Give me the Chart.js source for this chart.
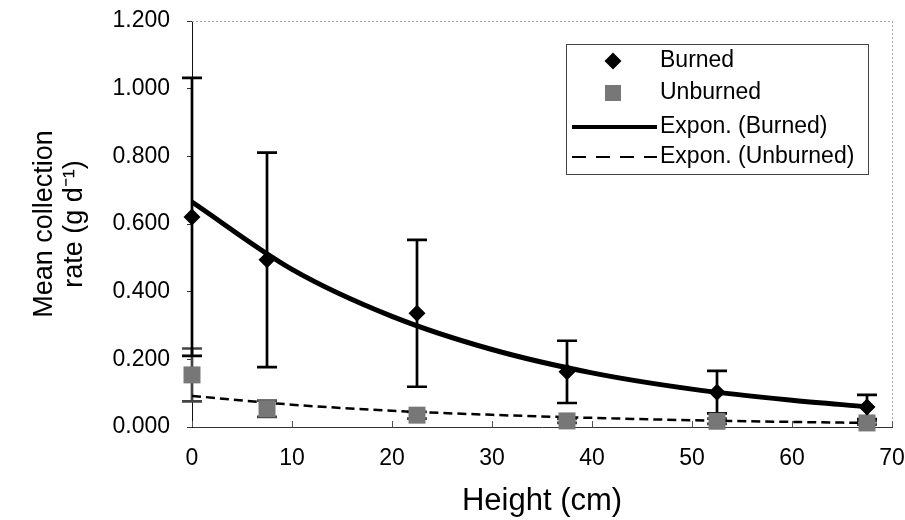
<!DOCTYPE html>
<html>
<head>
<meta charset="utf-8">
<script src="https://cdn.jsdelivr.net/npm/chart.js@4/dist/chart.umd.min.js"></script>
<style>
  html, body { margin: 0; padding: 0; background: #fff; }
  #wrap { width: 905px; height: 520px; }
</style>
</head>
<body>
<div id="wrap"><canvas id="chart" width="905" height="520"></canvas></div>
<script>
// sampling heights (cm)
var heights = [0, 7.5, 22.5, 37.5, 52.5, 67.5];
var burnedMean = [0.621, 0.494, 0.336, 0.163, 0.103, 0.059];
var burnedErr = [0.411, 0.317, 0.217, 0.092, 0.063, 0.036];
var unburnedMean = [0.154, 0.054, 0.035, 0.018, 0.017, 0.012];
var unburnedErr = [0.078, 0.024, 0.010, 0.006, 0.008, 0.005];
// fitted exponential trend lines
var trendX = [0, 10, 20, 30, 40, 50, 60, 67.5];
var burnedTrend = [0.665, 0.466, 0.327, 0.229, 0.160, 0.112, 0.079, 0.060];
var unburnedTrend = [0.092, 0.066, 0.048, 0.036, 0.027, 0.020, 0.015, 0.012];
var xTicks = [0, 10, 20, 30, 40, 50, 60, 70];
var yTicks = [0, 0.2, 0.4, 0.6, 0.8, 1.0, 1.2];
var seriesNames = ['Burned', 'Unburned', 'Expon. (Burned)', 'Expon. (Unburned)'];

var FONT = '"Liberation Sans", Arial, sans-serif';

function toPoints(xs, ys) {
  var out = [];
  for (var i = 0; i < xs.length; i++) out.push({x: xs[i], y: ys[i]});
  return out;
}

var errorBars = {
  id: 'errorBars',
  beforeDatasetsDraw: function (chart) {
    var ctx = chart.ctx, xs = chart.scales.x, ys = chart.scales.y;
    function bars(means, errs, color) {
      ctx.save();
      ctx.strokeStyle = color;
      ctx.lineWidth = 2.7;
      for (var i = 0; i < heights.length; i++) {
        var px = xs.getPixelForValue(heights[i]);
        var top = ys.getPixelForValue(means[i] + errs[i]);
        var bot = ys.getPixelForValue(Math.max(means[i] - errs[i], 0));
        ctx.beginPath();
        ctx.moveTo(px, top); ctx.lineTo(px, bot);
        ctx.moveTo(px - 10, top); ctx.lineTo(px + 10, top);
        ctx.moveTo(px - 10, bot); ctx.lineTo(px + 10, bot);
        ctx.stroke();
      }
      ctx.restore();
    }
    bars(unburnedMean, unburnedErr, '#444');
    bars(burnedMean, burnedErr, '#000');
  }
};

var frame = {
  id: 'frame',
  beforeDatasetsDraw: function (chart) {
    var ctx = chart.ctx, a = chart.chartArea, xs = chart.scales.x;
    ctx.save();
    ctx.strokeStyle = '#aaa';
    ctx.lineWidth = 1;
    ctx.setLineDash([2, 2]);
    ctx.beginPath();
    ctx.moveTo(a.left, a.top + 0.5); ctx.lineTo(a.right, a.top + 0.5);
    ctx.moveTo(a.right + 0.5, a.top); ctx.lineTo(a.right + 0.5, a.bottom);
    ctx.stroke();
    ctx.setLineDash([]);
    ctx.strokeStyle = '#555';
    ctx.beginPath();
    xTicks.forEach(function (t) {
      var px = Math.round(xs.getPixelForValue(t)) + 0.5;
      ctx.moveTo(px, a.bottom); ctx.lineTo(px, a.bottom - 6);
    });
    ctx.stroke();
    ctx.restore();
  }
};

var boxLegend = {
  id: 'boxLegend',
  afterDraw: function (chart) {
    var ctx = chart.ctx;
    var left = 566, top = 44, w = 302, h = 130;
    var rows = [61, 93, 127, 157];
    ctx.save();
    ctx.fillStyle = '#fff';
    ctx.fillRect(left, top, w, h);
    ctx.strokeStyle = '#444';
    ctx.lineWidth = 1;
    ctx.strokeRect(left + 0.5, top + 0.5, w, h);
    // Burned marker
    ctx.fillStyle = '#000';
    ctx.beginPath();
    ctx.moveTo(613, rows[0] - 8.5); ctx.lineTo(621.5, rows[0]);
    ctx.lineTo(613, rows[0] + 8.5); ctx.lineTo(604.5, rows[0]);
    ctx.closePath(); ctx.fill();
    // Unburned marker
    ctx.fillStyle = '#777';
    ctx.fillRect(605, rows[1] - 8, 16, 16);
    // trend samples
    ctx.strokeStyle = '#000';
    ctx.lineWidth = 4;
    ctx.beginPath(); ctx.moveTo(572, rows[2]); ctx.lineTo(657, rows[2]); ctx.stroke();
    ctx.lineWidth = 2;
    ctx.setLineDash([14, 10]);
    ctx.beginPath(); ctx.moveTo(572, rows[3]); ctx.lineTo(657, rows[3]); ctx.stroke();
    ctx.setLineDash([]);
    ctx.fillStyle = '#000';
    ctx.font = '23px ' + FONT;
    ctx.textBaseline = 'middle';
    ctx.textAlign = 'left';
    for (var i = 0; i < seriesNames.length; i++) ctx.fillText(seriesNames[i], 660, rows[i]);
    ctx.restore();
  }
};

new Chart(document.getElementById('chart'), {
  type: 'scatter',
  data: {
    datasets: [
      {
        label: seriesNames[0],
        data: toPoints(heights, burnedMean),
        pointStyle: 'rectRot',
        pointRadius: 8.5,
        backgroundColor: '#000',
        borderColor: '#000',
        borderWidth: 0,
        clip: false
      },
      {
        label: seriesNames[1],
        data: toPoints(heights, unburnedMean),
        pointStyle: 'rect',
        pointRadius: 12,
        backgroundColor: '#777',
        borderColor: '#777',
        borderWidth: 0,
        clip: false
      },
      {
        label: seriesNames[2],
        data: toPoints(trendX, burnedTrend),
        showLine: true,
        pointRadius: 0,
        borderColor: '#000',
        borderWidth: 5,
        cubicInterpolationMode: 'monotone',
        clip: false
      },
      {
        label: seriesNames[3],
        data: toPoints(trendX, unburnedTrend),
        showLine: true,
        pointRadius: 0,
        borderColor: '#000',
        borderWidth: 2.5,
        borderDash: [9, 5],
        cubicInterpolationMode: 'monotone'
      }
    ]
  },
  options: {
    responsive: false,
    animation: false,
    layout: { padding: { left: 0, right: 13, top: 21, bottom: 0 } },
    plugins: {
      legend: { display: false },
      tooltip: { enabled: false }
    },
    scales: {
      x: {
        type: 'linear',
        min: 0,
        max: 70,
        afterFit: function (scale) {
          scale.height = 93;
          scale.paddingLeft = 0;
          scale.paddingRight = 0;
        },
        afterBuildTicks: function (scale) {
          scale.ticks = xTicks.map(function (v) { return {value: v}; });
        },
        grid: { display: false, drawOnChartArea: false, tickLength: 0 },
        border: { display: true, color: '#333', width: 1 },
        ticks: {
          color: '#000',
          font: { family: FONT, size: 23 },
          padding: 18,
          maxRotation: 0
        },
        title: {
          display: true,
          text: 'Height (cm)',
          color: '#000',
          font: { family: FONT, size: 31 },
          padding: { top: 0, bottom: 0 }
        }
      },
      y: {
        type: 'linear',
        min: 0,
        max: 1.2,
        afterFit: function (scale) {
          scale.width = 192;
          scale.paddingTop = 0;
          scale.paddingBottom = 0;
        },
        afterBuildTicks: function (scale) {
          scale.ticks = yTicks.map(function (v) { return {value: v}; });
        },
        grid: { drawOnChartArea: false, tickLength: 5, color: '#333' },
        border: { display: true, color: '#111', width: 1 },
        ticks: {
          color: '#000',
          font: { family: FONT, size: 23 },
          padding: 17,
          callback: function (v) { return Number(v).toFixed(3); }
        },
        title: {
          display: true,
          text: ['Mean collection', 'rate (g d\u207B\u00B9)'],
          color: '#000',
          font: { family: FONT, size: 27, lineHeight: 1.1 },
          padding: { top: 30, bottom: 0 }
        }
      }
    }
  },
  plugins: [frame, errorBars, boxLegend]
});
</script>
</body>
</html>
